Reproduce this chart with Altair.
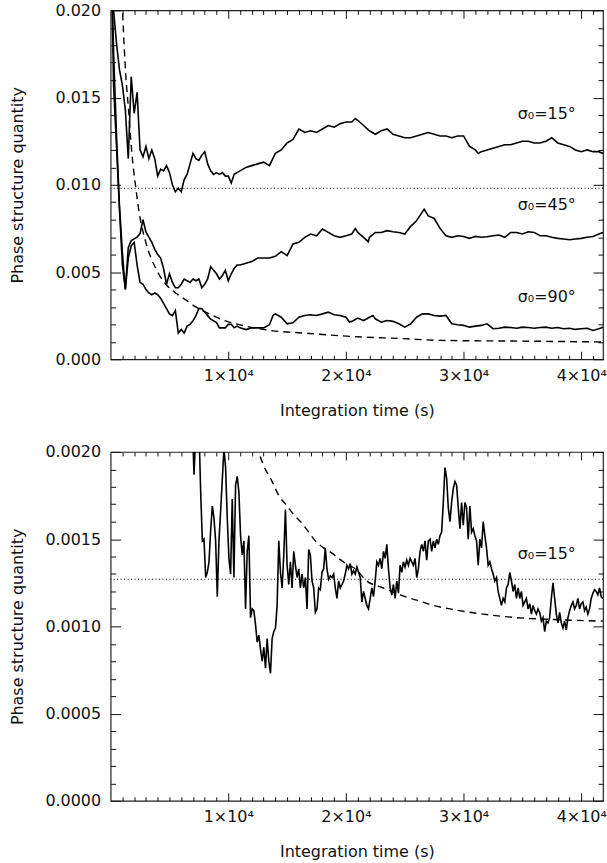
import altair as alt
import pandas as pd

X_MAX = 41850
PANEL_W = 494
PANEL_H = 350
FONT = "DejaVu Sans"
INK = "#111111"

# ---------------- upper panel: three widths of the phase distribution ----------------
t_s15 = [100, 250, 500, 750, 1000, 1250, 1500, 1750, 2000, 2250, 2500, 2750, 3000, 3250, 3500,
         3750, 4000, 4250, 4500, 4750, 5000, 5250, 5500, 5750, 6000, 6250, 6500, 6750, 7000,
         7250, 7500, 7750, 8000, 8250, 8500, 8750, 9000, 9250, 9500, 9750, 10000, 10250, 10500,
         10750, 11000, 11500, 12000, 12500, 13000, 13500, 14000, 14500, 15000, 15500, 16000,
         16500, 17000, 17500, 18000, 18500, 19000, 19500, 20000, 20500, 20800, 21000, 21500,
         22000, 22500, 23000, 23500, 24000, 24500, 25000, 25500, 26000, 26500, 27000, 27500,
         28000, 28500, 29000, 29500, 30000, 30500, 31000, 31250, 31500, 32000, 32500, 33000,
         33500, 34000, 34500, 35000, 35500, 36000, 36500, 37000, 37500, 38000, 38500, 39000,
         39500, 40000, 40500, 41000, 41500, 41850]
v_s15 = [0.0215, 0.0200, 0.0181, 0.0166, 0.0157, 0.0143, 0.0115, 0.0162, 0.0141, 0.0153, 0.0120,
         0.0116, 0.0122, 0.0115, 0.0120, 0.0115, 0.0105, 0.0109, 0.0108, 0.0111, 0.0107, 0.0100,
         0.0096, 0.0098, 0.0096, 0.0103, 0.0106, 0.0112, 0.0118, 0.0115, 0.0114, 0.0117, 0.0119,
         0.0112, 0.0108, 0.0106, 0.0107, 0.0106, 0.0107, 0.0105, 0.0105, 0.0101, 0.0106, 0.0107,
         0.0108, 0.0110, 0.0111, 0.0112, 0.0113, 0.0111, 0.0118, 0.0120, 0.0124, 0.0126, 0.0132,
         0.0130, 0.0131, 0.0130, 0.0132, 0.0134, 0.0133, 0.0135, 0.0136, 0.0136, 0.0138, 0.0137,
         0.0134, 0.0131, 0.0129, 0.0131, 0.0132, 0.0129, 0.0128, 0.0127, 0.0127, 0.0128, 0.0129,
         0.0130, 0.0129, 0.0128, 0.0128, 0.0127, 0.0128, 0.0128, 0.0122, 0.0120, 0.0118, 0.0119,
         0.0120, 0.0121, 0.0122, 0.0123, 0.0123, 0.0124, 0.0125, 0.0125, 0.0124, 0.0124, 0.0125,
         0.0127, 0.0124, 0.0123, 0.0122, 0.0120, 0.0119, 0.0120, 0.0119, 0.0119, 0.0118]

t_s45 = [100, 250, 500, 750, 1000, 1250, 1500, 1750, 2000, 2250, 2500, 2750, 3000, 3250, 3500,
         3750, 4000, 4250, 4500, 4750, 5000, 5250, 5500, 5750, 6000, 6250, 6500, 6750, 7000,
         7250, 7500, 7750, 8000, 8250, 8500, 8750, 9000, 9250, 9500, 9750, 10000, 10250, 10500,
         10750, 11000, 11500, 12000, 12500, 13000, 13500, 14000, 14500, 15000, 15500, 16000,
         16500, 17000, 17500, 18000, 18500, 19000, 19500, 20000, 20500, 20800, 21000, 21500,
         21900, 22000, 22500, 23000, 23500, 24000, 24500, 25000, 25500, 26000, 26500, 26650,
         27000, 27500, 28000, 28500, 29000, 29500, 30000, 30500, 31000, 31500, 32000, 32500,
         33000, 33500, 34000, 34500, 35000, 35500, 36000, 36500, 37000, 37500, 38000, 38500,
         39000, 39500, 40000, 40500, 41000, 41500, 41850]
v_s45 = [0.0215, 0.0176, 0.0128, 0.0088, 0.0061, 0.0040, 0.0064, 0.0068, 0.0069, 0.0070, 0.0072,
         0.0080, 0.0073, 0.0070, 0.0067, 0.0063, 0.0060, 0.0058, 0.0052, 0.0043, 0.0049, 0.0044,
         0.0041, 0.0041, 0.0043, 0.0046, 0.0045, 0.0044, 0.0046, 0.0045, 0.0046, 0.0041, 0.0043,
         0.0046, 0.0053, 0.0051, 0.0049, 0.0046, 0.0048, 0.0051, 0.0045, 0.0049, 0.0052, 0.0054,
         0.0054, 0.0055, 0.0056, 0.0058, 0.0058, 0.0058, 0.0059, 0.00617, 0.00594, 0.00661,
         0.00670, 0.00699, 0.00718, 0.00708, 0.00746, 0.00727, 0.00708, 0.00699, 0.00708, 0.00718,
         0.00750, 0.00727, 0.00699, 0.00674, 0.00699, 0.00727, 0.00727, 0.00737, 0.00731, 0.00727,
         0.00718, 0.00762, 0.00794, 0.00845, 0.00860, 0.00822, 0.00807, 0.00750, 0.00708, 0.00699,
         0.00708, 0.00704, 0.00693, 0.00704, 0.00699, 0.00702, 0.00708, 0.00712, 0.00699, 0.00727,
         0.00727, 0.00718, 0.00731, 0.00727, 0.00708, 0.00708, 0.00699, 0.00693, 0.00689, 0.00685,
         0.00689, 0.00693, 0.00699, 0.00704, 0.00718, 0.00727]

t_s90 = [100, 250, 500, 750, 1000, 1250, 1500, 1750, 2000, 2250, 2500, 2750, 3000, 3250, 3500,
         3750, 4000, 4250, 4500, 4750, 5000, 5250, 5500, 5750, 6000, 6250, 6500, 6750, 7000,
         7250, 7500, 7750, 8000, 8250, 8500, 8750, 9000, 9250, 9500, 9750, 10000, 10250, 10500,
         10750, 11000, 11500, 12000, 12500, 13000, 13500, 13800, 14000, 14500, 15000, 15500,
         16000, 16500, 17000, 17500, 18000, 18500, 19000, 19500, 20000, 20300, 20500, 21000,
         21500, 22000, 22300, 22500, 23000, 23500, 24000, 24500, 25000, 25500, 26000, 26500,
         27000, 27500, 28000, 28500, 29000, 29500, 30000, 30500, 31000, 31500, 32000, 32500,
         33000, 33500, 34000, 34500, 35000, 35500, 36000, 36500, 37000, 37500, 38000, 38500,
         39000, 39500, 40000, 40500, 41000, 41500, 41850]
v_s90 = [0.0215, 0.0157, 0.0122, 0.0086, 0.0054, 0.0040, 0.0058, 0.0065, 0.0067, 0.0054, 0.0044,
         0.0043, 0.0040, 0.0038, 0.0037, 0.0038, 0.0037, 0.0035, 0.0032, 0.0029, 0.0026, 0.0025,
         0.0028, 0.0015, 0.0017, 0.0015, 0.0019, 0.0020, 0.0022, 0.0025, 0.0029, 0.0029, 0.0027,
         0.0025, 0.0023, 0.0022, 0.0021, 0.0018, 0.0018, 0.0018, 0.0020, 0.0020, 0.0018, 0.0019,
         0.0018, 0.0017, 0.0018, 0.0018, 0.0018, 0.00198, 0.00251, 0.00260, 0.00241, 0.00203,
         0.00209, 0.00241, 0.00251, 0.00255, 0.00251, 0.00260, 0.00270, 0.00255, 0.00251, 0.00241,
         0.00213, 0.00217, 0.00236, 0.00222, 0.00241, 0.00251, 0.00232, 0.00213, 0.00222, 0.00217,
         0.00203, 0.00184, 0.00203, 0.00241, 0.00260, 0.00260, 0.00251, 0.00247, 0.00251, 0.00203,
         0.00198, 0.00194, 0.00184, 0.00190, 0.00194, 0.00203, 0.00175, 0.00178, 0.00184, 0.00182,
         0.00178, 0.00184, 0.00182, 0.00178, 0.00182, 0.00184, 0.00178, 0.00182, 0.00175, 0.00178,
         0.00171, 0.00175, 0.00178, 0.00165, 0.00175, 0.00184]

# model curve and reference level of the upper panel
t_model_top = [950, 1014, 1156, 1297, 1500, 1806, 2145, 2427, 2992, 3840, 4687, 5535, 6382, 7230,
               8077, 9772, 11467, 13585, 16410, 20650, 24885, 28000, 34630, 41850]
v_model_top = [0.0212, 0.0200, 0.0179, 0.0162, 0.0145, 0.0118, 0.0098, 0.0084, 0.0067, 0.0052,
               0.0043, 0.0038, 0.0034, 0.0030, 0.0027, 0.0022, 0.0019, 0.00165, 0.0015, 0.0013,
               0.00118, 0.00108, 0.00104, 0.00099]
level_top = 0.0098

label_top_text = ["σ₀=15°", "σ₀=45°", "σ₀=90°"]
label_top_t = [34600, 34600, 34600]
label_top_v = [0.01379, 0.00853, 0.00327]

# ---------------- lower panel: sigma0 = 15 deg on a finer scale ----------------
t_low = [6950, 7088, 7230, 7371, 7512, 7653, 7795, 7936, 8077, 8218, 8360, 8501, 8642, 8783, 8925,
         9066, 9207, 9348, 9490, 9631, 9772, 9913, 10055, 10196, 10337, 10478, 10620, 10761,
         10902, 11043, 11185, 11326, 11467, 11608, 11750, 11891, 12032, 12173, 12315, 12456,
         12597, 12738, 12880, 13021, 13162, 13303, 13445, 13586, 13727, 13868, 14010, 14151,
         14292, 14433, 14575, 14716, 14857, 14998, 15140, 15281, 15422, 15563, 15705, 15846,
         15987, 16128, 16270, 16411, 16552, 16693, 16835, 16976, 17117, 17258, 17400, 17541,
         17682, 17823, 17965, 18106, 18247, 18388, 18530, 18671, 18812, 18953, 19095, 19236,
         19377, 19518, 19660, 19801, 19942, 20083, 20225, 20366, 20507, 20648, 20790,
         20931, 21072, 21213, 21354, 21496, 21637, 21778, 21919, 22061, 22202,
         22343, 22484, 22626, 22767, 22908, 23049, 23191, 23332, 23473, 23614,
         23756, 23897, 24038, 24179, 24321, 24462, 24603, 24744, 24886, 25027,
         25168, 25309, 25451, 25592, 25733, 25874, 26016, 26157, 26298, 26439,
         26581, 26722, 26863, 27004, 27146, 27287, 27428, 27569, 27711, 27852,
         27993, 28134, 28276, 28417, 28558, 28699, 28841, 28982, 29123, 29264,
         29406, 29547, 29688, 29829, 29971, 30112, 30253, 30394, 30536, 30677,
         30818, 30959, 31101, 31242, 31383, 31524, 31666, 31807, 31948, 32089,
         32231, 32372, 32513, 32654, 32796, 32937, 33078, 33219, 33361, 33502,
         33643, 33784, 33926, 34067, 34208, 34349, 34491, 34632, 34773, 34914,
         35056, 35197, 35338, 35479, 35621, 35762, 35903, 36044, 36186, 36327,
         36468, 36609, 36751, 36892, 37033, 37174, 37316, 37457, 37598, 37739,
         37881, 38022, 38163, 38304, 38446, 38587, 38728, 38869, 39011, 39152,
         39293, 39434, 39576, 39717, 39858, 39999, 40141, 40282, 40423, 40564,
         40706, 40847, 40988, 41129, 41271, 41412, 41553, 41694, 41836]
v_low = [0.00215, 0.00187, 0.00210, 0.00205, 0.00212, 0.00177, 0.00149, 0.00150, 0.00128, 0.00131,
         0.00137, 0.00155, 0.00169, 0.00162, 0.00149, 0.00117, 0.00149, 0.00166, 0.00184, 0.00202,
         0.00191, 0.00162, 0.00139, 0.00130, 0.00173, 0.00128, 0.00181, 0.00186, 0.00177, 0.00152,
         0.00141, 0.00149, 0.00110, 0.00143, 0.00152, 0.00105, 0.00110, 0.00109, 0.00101, 0.00091,
         0.00095, 0.00087, 0.00080, 0.00088, 0.00076, 0.00093, 0.00080, 0.00073, 0.00093, 0.00097,
         0.00099, 0.00112, 0.00149, 0.00131, 0.00122, 0.00141, 0.00167, 0.00135, 0.00124, 0.00137,
         0.00122, 0.00143, 0.00135, 0.00128, 0.00133, 0.00122, 0.00130, 0.00122, 0.00128, 0.00110,
         0.00144, 0.00141, 0.00126, 0.00122, 0.00108, 0.00110, 0.00122, 0.00121, 0.00131, 0.00133,
         0.00145, 0.00133, 0.00127, 0.00129, 0.00128, 0.00130, 0.00122, 0.00116, 0.00126, 0.00122,
         0.00124, 0.00126, 0.00130, 0.00135, 0.00133, 0.00136, 0.00130, 0.00132, 0.00130,
         0.00134, 0.00131, 0.00128, 0.00114, 0.00120, 0.00116, 0.00112, 0.00110, 0.00116, 0.00122,
         0.00117, 0.00126, 0.00137, 0.00135, 0.00139, 0.00133, 0.00143, 0.00139, 0.00147, 0.00133,
         0.00122, 0.00118, 0.00124, 0.00116, 0.00126, 0.00119, 0.00135, 0.00131, 0.00137, 0.00134,
         0.00138, 0.00135, 0.00139, 0.00137, 0.00135, 0.00139, 0.00128, 0.00133, 0.00143, 0.00147,
         0.00143, 0.00149, 0.00138, 0.00149, 0.00150, 0.00143, 0.00149, 0.00145, 0.00150, 0.00147,
         0.00152, 0.00154, 0.00171, 0.00191, 0.00185, 0.00168, 0.00160, 0.00171, 0.00179, 0.00183,
         0.00181, 0.00168, 0.00156, 0.00171, 0.00158, 0.00171, 0.00168, 0.00150, 0.00169, 0.00154,
         0.00156, 0.00152, 0.00149, 0.00135, 0.00150, 0.00145, 0.00160, 0.00152, 0.00145, 0.00135,
         0.00137, 0.00133, 0.00130, 0.00126, 0.00128, 0.00120, 0.00116, 0.00112, 0.00116, 0.00114,
         0.00122, 0.00124, 0.00131, 0.00126, 0.00120, 0.00124, 0.00116, 0.00122, 0.00116, 0.00120,
         0.00112, 0.00114, 0.00116, 0.00110, 0.00113, 0.00107, 0.00112, 0.00109, 0.00107, 0.00110,
         0.00108, 0.00103, 0.00105, 0.00097, 0.00103, 0.00102, 0.00105, 0.00116, 0.00125, 0.00116,
         0.00107, 0.00102, 0.00108, 0.00102, 0.00099, 0.00103, 0.00098, 0.00105, 0.00109, 0.00112,
         0.00114, 0.00110, 0.00112, 0.00116, 0.00110, 0.00113, 0.00114, 0.00109, 0.00111, 0.00107,
         0.00110, 0.00116, 0.00119, 0.00121, 0.00120, 0.00118, 0.00122, 0.00117, 0.00116]

t_model_low = [12450, 12597, 13021, 13727, 14292, 14998, 15563, 16270, 16835, 17400, 18106, 18812,
               19377, 20225, 20790, 21778, 23190, 24600, 26015, 27430, 28840, 31665, 34490, 37315,
               41835]
v_model_low = [0.00204, 0.00200, 0.00192, 0.00183, 0.00175, 0.00169, 0.00164, 0.00159, 0.00154,
               0.00149, 0.00145, 0.00142, 0.00139, 0.00135, 0.00133, 0.00126, 0.00122, 0.00118,
               0.00115, 0.00112, 0.00110, 0.00107, 0.00105, 0.00104, 0.00103]
level_low = 0.00127

label_low_text = ["σ₀=15°"]
label_low_t = [34600]
label_low_v = [0.001389]

# ---------------- tick positions (every minor step; majors carry labels) ----------------
x_ticks = [1000 * i for i in range(1, 42)]
X_MAJOR_STEP = 10000
y_ticks_top = [0.001 * i for i in range(0, 21)]
Y_MAJOR_STEP_TOP = 0.005
y_ticks_low = [0.0001 * i for i in range(0, 21)]
Y_MAJOR_STEP_LOW = 0.0005


def series_frame(parts):
    rows = []
    for name, ts, vs in parts:
        for t, v in zip(ts, vs):
            rows.append({"series": name, "t": t, "v": v})
    return pd.DataFrame(rows)


def is_minor(step):
    return f"abs(datum.value / {step} - round(datum.value / {step})) > 1e-6"


def frame_axis(orient, values, step, length, minor_len, **extra):
    """Axis whose ticks point into the plot; minor ticks are shortened with a dash."""
    return alt.Axis(
        orient=orient, values=values, ticks=True, domain=False, grid=False,
        tickSize=alt.ExprRef(expr=str(-length)), tickColor=INK, tickWidth=1,
        tickDash={"condition": {"test": is_minor(step), "value": [minor_len, 40]}, "value": []},
        labelOverlap=False, labelFlush=False, **extra)


def panel(lines_df, model_df, level, labels_df, y_max, y_ticks, y_step, y_fmt):
    xs = alt.Scale(domain=[0, X_MAX], nice=False, zero=False)
    ys = alt.Scale(domain=[0, y_max], nice=False, zero=False)

    x_axis = frame_axis(
        "bottom", x_ticks, X_MAJOR_STEP, 8, 4,
        labelExpr=f"{is_minor(X_MAJOR_STEP)} ? '' : datum.value / 10000 + '×10⁴'",
        labelPadding=16, labelFont=FONT, labelFontSize=16, labelColor=INK,
        title="Integration time (s)", titleFont=FONT, titleFontSize=16, titleFontWeight="normal",
        titleColor=INK, titleBaseline="middle", titleY=51)
    y_axis = frame_axis(
        "left", y_ticks, y_step, 10, 5,
        labelExpr=f"{is_minor(y_step)} ? '' : format(datum.value, '{y_fmt}')",
        labelPadding=20, labelFont=FONT, labelFontSize=16, labelColor=INK,
        title="Phase structure quantity", titleFont=FONT, titleFontSize=16,
        titleFontWeight="normal", titleColor=INK, titleAngle=270, titleAlign="center",
        titleBaseline="middle", titleX=-93, titleY=PANEL_H / 2)
    x_top = frame_axis("top", x_ticks, X_MAJOR_STEP, 8, 4, labels=False, title=None)
    y_right = frame_axis("right", y_ticks, y_step, 10, 5, labels=False, title=None)

    curves = alt.Chart(lines_df).mark_line(color="black", strokeWidth=1.6, clip=True).encode(
        x=alt.X("t:Q", scale=xs, axis=x_axis),
        y=alt.Y("v:Q", scale=ys, axis=y_axis),
        detail="series:N",
    )

    model = alt.Chart(model_df).mark_line(
        color="black", strokeWidth=1.4, strokeDash=[7, 5], clip=True, interpolate="monotone"
    ).encode(
        x=alt.X("t:Q", scale=xs, axis=x_top),
        y=alt.Y("v:Q", scale=ys, axis=y_right),
    )

    ref = alt.Chart(pd.DataFrame({"v": [level]})).mark_rule(
        color="black", strokeWidth=1, strokeDash=[1, 2.5]
    ).encode(y=alt.Y("v:Q", scale=ys, axis=None))

    text = alt.Chart(labels_df).mark_text(
        align="left", baseline="alphabetic", font=FONT, fontSize=16, color=INK
    ).encode(
        x=alt.X("t:Q", scale=xs, axis=None),
        y=alt.Y("v:Q", scale=ys, axis=None),
        text="label:N",
    )

    # shared scales; each layer contributes its own axes (labelled bottom/left, bare top/right)
    return alt.layer(curves, model, ref, text).resolve_axis(
        x="independent", y="independent"
    ).properties(width=PANEL_W, height=PANEL_H)


top_lines = series_frame([("15", t_s15, v_s15), ("45", t_s45, v_s45), ("90", t_s90, v_s90)])
top_model = pd.DataFrame({"t": t_model_top, "v": v_model_top})
top_labels = pd.DataFrame({"label": label_top_text, "t": label_top_t, "v": label_top_v})

low_lines = series_frame([("15", t_low, v_low)])
low_model = pd.DataFrame({"t": t_model_low, "v": v_model_low})
low_labels = pd.DataFrame({"label": label_low_text, "t": label_low_t, "v": label_low_v})

upper = panel(top_lines, top_model, level_top, top_labels, 0.020, y_ticks_top, Y_MAJOR_STEP_TOP, ".3f")
lower = panel(low_lines, low_model, level_low, low_labels, 0.0020, y_ticks_low, Y_MAJOR_STEP_LOW, ".4f")

chart = alt.vconcat(upper, lower, spacing=24).properties(
    padding={"left": 9, "top": 0, "right": 0, "bottom": 0},
    background="white",
).configure_view(stroke="#222222", strokeWidth=1.2)

chart.save("out.html", embed_options={"renderer": "svg", "actions": False})
